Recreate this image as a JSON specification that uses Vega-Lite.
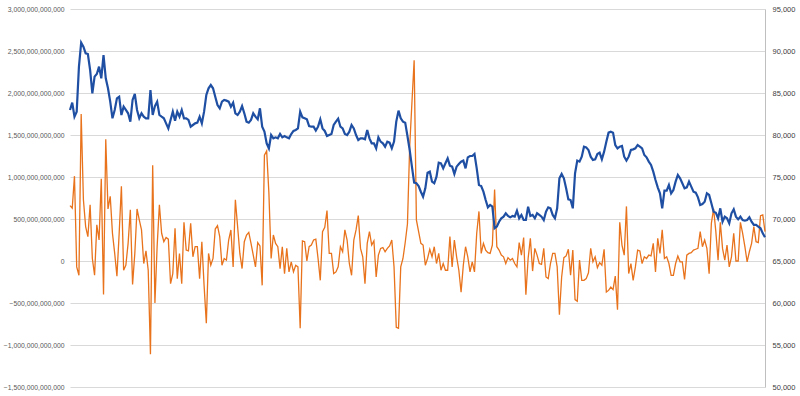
{
  "$schema": "https://vega.github.io/schema/vega-lite/v6.json",
  "width": 695,
  "height": 378,
  "autosize": {"type": "none"},
  "padding": {"left": 70, "top": 9, "right": 35, "bottom": 9},
  "background": "white",
  "config": {
    "view": {"stroke": null},
    "axis": {"labelFont": "Liberation Sans", "labelFontSize": 7.5, "labelColor": "#595959", "ticks": false, "domain": false, "title": null}
  },
  "data": {"values": [
{"t":0,"b":82980,"o":660e9},{"t":1,"b":83850,"o":630e9},{"t":2,"b":82180,"o":1010e9},{"t":3,"b":82780,"o":-70e9},{"t":4,"b":88140,"o":-170e9},
{"t":5,"b":90990,"o":1750e9},{"t":6,"b":90520,"o":730e9},{"t":7,"b":89720,"o":410e9},{"t":8,"b":89640,"o":290e9},{"t":9,"b":87740,"o":670e9},
{"t":10,"b":84960,"o":30e9},{"t":11,"b":86950,"o":-170e9},{"t":12,"b":87260,"o":430e9},{"t":13,"b":88140,"o":250e9},{"t":14,"b":86750,"o":980e9},
{"t":15,"b":89520,"o":-400e9},{"t":16,"b":86750,"o":1450e9},{"t":17,"b":85560,"o":620e9},{"t":18,"b":83970,"o":770e9},{"t":19,"b":81990,"o":330e9},
{"t":20,"b":82980,"o":90e9},{"t":21,"b":84370,"o":-180e9},{"t":22,"b":84560,"o":330e9},{"t":23,"b":82380,"o":890e9},{"t":24,"b":83370,"o":-110e9},
{"t":25,"b":82980,"o":-50e9},{"t":26,"b":82580,"o":210e9},{"t":27,"b":81590,"o":610e9},{"t":28,"b":84170,"o":-280e9},{"t":29,"b":84880,"o":90e9},
{"t":30,"b":82980,"o":620e9},{"t":31,"b":81990,"o":490e9},{"t":32,"b":82580,"o":370e9},{"t":33,"b":82180,"o":-30e9},{"t":34,"b":81990,"o":120e9},
{"t":35,"b":81990,"o":-110e9},{"t":36,"b":85360,"o":-1110e9},{"t":37,"b":82380,"o":1140e9},{"t":38,"b":83450,"o":-500e9},{"t":39,"b":83970,"o":180e9},
{"t":40,"b":82380,"o":670e9},{"t":41,"b":82180,"o":330e9},{"t":42,"b":81990,"o":230e9},{"t":43,"b":81390,"o":280e9},{"t":44,"b":80790,"o":260e9},
{"t":45,"b":81790,"o":-270e9},{"t":46,"b":82780,"o":-150e9},{"t":47,"b":81710,"o":390e9},{"t":48,"b":82780,"o":-210e9},{"t":49,"b":82180,"o":90e9},
{"t":50,"b":82980,"o":-270e9},{"t":51,"b":81990,"o":460e9},{"t":52,"b":81990,"o":130e9},{"t":53,"b":81790,"o":120e9},{"t":54,"b":80990,"o":450e9},
{"t":55,"b":81190,"o":50e9},{"t":56,"b":81390,"o":170e9},{"t":57,"b":81470,"o":170e9},{"t":58,"b":82180,"o":-210e9},{"t":59,"b":81390,"o":230e9},
{"t":60,"b":82780,"o":-290e9},{"t":61,"b":84760,"o":-740e9},{"t":62,"b":85560,"o":90e9},{"t":63,"b":85950,"o":-50e9},{"t":64,"b":85560,"o":30e9},
{"t":65,"b":84560,"o":380e9},{"t":66,"b":83570,"o":420e9},{"t":67,"b":83180,"o":290e9},{"t":68,"b":83970,"o":-50e9},{"t":69,"b":84170,"o":30e9},
{"t":70,"b":84090,"o":10e9},{"t":71,"b":83970,"o":250e9},{"t":72,"b":83370,"o":370e9},{"t":73,"b":83850,"o":-70e9},{"t":74,"b":82580,"o":730e9},
{"t":75,"b":82380,"o":410e9},{"t":76,"b":82780,"o":90e9},{"t":77,"b":83450,"o":-90e9},{"t":78,"b":82580,"o":230e9},{"t":79,"b":81590,"o":310e9},
{"t":80,"b":81470,"o":340e9},{"t":81,"b":81790,"o":210e9},{"t":82,"b":82580,"o":70e9},{"t":83,"b":82180,"o":-70e9},{"t":84,"b":81870,"o":220e9},
{"t":85,"b":83180,"o":180e9},{"t":86,"b":80990,"o":-290e9},{"t":87,"b":80400,"o":1260e9},{"t":88,"b":79010,"o":1310e9},{"t":89,"b":78410,"o":810e9},
{"t":90,"b":80000,"o":30e9},{"t":91,"b":79600,"o":310e9},{"t":92,"b":79720,"o":210e9},{"t":93,"b":79600,"o":170e9},{"t":94,"b":80120,"o":-90e9},
{"t":95,"b":79720,"o":170e9},{"t":96,"b":79880,"o":-150e9},{"t":97,"b":79720,"o":150e9},{"t":98,"b":79600,"o":-130e9},{"t":99,"b":80120,"o":-10e9},
{"t":100,"b":80480,"o":-130e9},{"t":101,"b":80600,"o":-50e9},{"t":102,"b":80790,"o":-70e9},{"t":103,"b":82780,"o":-800e9},{"t":104,"b":82100,"o":240e9},
{"t":105,"b":81990,"o":230e9},{"t":106,"b":81870,"o":0},{"t":107,"b":81070,"o":170e9},{"t":108,"b":80990,"o":190e9},{"t":109,"b":80990,"o":250e9},
{"t":110,"b":80520,"o":260e9},{"t":111,"b":80990,"o":30e9},{"t":112,"b":81870,"o":-230e9},{"t":113,"b":80790,"o":350e9},{"t":114,"b":80480,"o":400e9},
{"t":115,"b":79880,"o":600e9},{"t":116,"b":80000,"o":90e9},{"t":117,"b":80120,"o":90e9},{"t":118,"b":81190,"o":-150e9},{"t":119,"b":81590,"o":-130e9},
{"t":120,"b":81950,"o":-70e9},{"t":121,"b":80990,"o":170e9},{"t":122,"b":80790,"o":110e9},{"t":123,"b":80120,"o":370e9},{"t":124,"b":80000,"o":250e9},
{"t":125,"b":80400,"o":-30e9},{"t":126,"b":81190,"o":-170e9},{"t":127,"b":80790,"o":250e9},{"t":128,"b":80000,"o":370e9},{"t":129,"b":79410,"o":540e9},
{"t":130,"b":79600,"o":150e9},{"t":131,"b":79600,"o":50e9},{"t":132,"b":79490,"o":-270e9},{"t":133,"b":80600,"o":210e9},{"t":134,"b":79600,"o":350e9},
{"t":135,"b":79010,"o":190e9},{"t":136,"b":79010,"o":240e9},{"t":137,"b":78410,"o":-190e9},{"t":138,"b":79720,"o":70e9},{"t":139,"b":79210,"o":150e9},
{"t":140,"b":79010,"o":160e9},{"t":141,"b":78610,"o":110e9},{"t":142,"b":79210,"o":150e9},{"t":143,"b":79090,"o":180e9},{"t":144,"b":78410,"o":250e9},
{"t":145,"b":79210,"o":-70e9},{"t":146,"b":81590,"o":-790e9},{"t":147,"b":82900,"o":-800e9},{"t":148,"b":81990,"o":-70e9},{"t":149,"b":81590,"o":30e9},
{"t":150,"b":81470,"o":220e9},{"t":151,"b":79880,"o":440e9},{"t":152,"b":78220,"o":1360e9},{"t":153,"b":76230,"o":1880e9},{"t":154,"b":74330,"o":2390e9},
{"t":155,"b":74250,"o":490e9},{"t":156,"b":73930,"o":350e9},{"t":157,"b":73250,"o":210e9},{"t":158,"b":72660,"o":190e9},{"t":159,"b":73650,"o":-50e9},
{"t":160,"b":75520,"o":30e9},{"t":161,"b":75640,"o":140e9},{"t":162,"b":74450,"o":50e9},{"t":163,"b":74250,"o":170e9},{"t":164,"b":75040,"o":-30e9},
{"t":165,"b":76710,"o":90e9},{"t":166,"b":76630,"o":-110e9},{"t":167,"b":76030,"o":-30e9},{"t":168,"b":76630,"o":-110e9},{"t":169,"b":77220,"o":-110e9},
{"t":170,"b":76350,"o":290e9},{"t":171,"b":76230,"o":-70e9},{"t":172,"b":75360,"o":250e9},{"t":173,"b":76230,"o":50e9},{"t":174,"b":76550,"o":-110e9},
{"t":175,"b":76830,"o":-370e9},{"t":176,"b":76950,"o":-50e9},{"t":177,"b":76030,"o":170e9},{"t":178,"b":77340,"o":50e9},{"t":179,"b":77500,"o":-130e9},
{"t":180,"b":77500,"o":-10e9},{"t":181,"b":77740,"o":-130e9},{"t":182,"b":76030,"o":330e9},{"t":183,"b":74050,"o":590e9},{"t":184,"b":73930,"o":90e9},
{"t":185,"b":73250,"o":210e9},{"t":186,"b":72260,"o":130e9},{"t":187,"b":71390,"o":100e9},{"t":188,"b":71670,"o":90e9},{"t":189,"b":71470,"o":190e9},
{"t":190,"b":68890,"o":850e9},{"t":191,"b":69090,"o":170e9},{"t":192,"b":69680,"o":130e9},{"t":193,"b":70080,"o":70e9},{"t":194,"b":70280,"o":50e9},
{"t":195,"b":70680,"o":-30e9},{"t":196,"b":70360,"o":40e9},{"t":197,"b":70200,"o":10e9},{"t":198,"b":70360,"o":30e9},{"t":199,"b":70280,"o":-30e9},
{"t":200,"b":70990,"o":-70e9},{"t":201,"b":70080,"o":220e9},{"t":202,"b":70480,"o":70e9},{"t":203,"b":69880,"o":280e9},{"t":204,"b":69880,"o":-400e9},
{"t":205,"b":71470,"o":30e9},{"t":206,"b":70360,"o":270e9},{"t":207,"b":70480,"o":-120e9},{"t":208,"b":70080,"o":150e9},{"t":209,"b":70680,"o":70e9},
{"t":210,"b":70480,"o":-30e9},{"t":211,"b":70280,"o":-40e9},{"t":212,"b":69880,"o":150e9},{"t":213,"b":70870,"o":-190e9},{"t":214,"b":71390,"o":-210e9},
{"t":215,"b":71270,"o":-30e9},{"t":216,"b":70480,"o":90e9},{"t":217,"b":70080,"o":90e9},{"t":218,"b":71270,"o":-70e9},{"t":219,"b":74840,"o":-640e9},
{"t":220,"b":75360,"o":-190e9},{"t":221,"b":74840,"o":40e9},{"t":222,"b":73650,"o":60e9},{"t":223,"b":72340,"o":140e9},{"t":224,"b":72260,"o":-170e9},
{"t":225,"b":71270,"o":130e9},{"t":226,"b":75440,"o":-460e9},{"t":227,"b":76950,"o":-480e9},{"t":228,"b":76830,"o":10e9},{"t":229,"b":77420,"o":-230e9},
{"t":230,"b":78610,"o":-230e9},{"t":231,"b":78530,"o":-210e9},{"t":232,"b":78220,"o":-140e9},{"t":233,"b":77420,"o":150e9},{"t":234,"b":77020,"o":-10e9},
{"t":235,"b":77100,"o":50e9},{"t":236,"b":77740,"o":-80e9},{"t":237,"b":77900,"o":-20e9},{"t":238,"b":77100,"o":-50e9},{"t":239,"b":78020,"o":140e9},
{"t":240,"b":79210,"o":-370e9},{"t":241,"b":80280,"o":-350e9},{"t":242,"b":80400,"o":-310e9},{"t":243,"b":80280,"o":-340e9},{"t":244,"b":78810,"o":-180e9},
{"t":245,"b":78410,"o":-580e9},{"t":246,"b":78610,"o":460e9},{"t":247,"b":78690,"o":190e9},{"t":248,"b":77420,"o":70e9},{"t":249,"b":76950,"o":650e9},
{"t":250,"b":77420,"o":-150e9},{"t":251,"b":78220,"o":-30e9},{"t":252,"b":78290,"o":-230e9},{"t":253,"b":78410,"o":-70e9},{"t":254,"b":78810,"o":130e9},
{"t":255,"b":78610,"o":120e9},{"t":256,"b":78410,"o":-30e9},{"t":257,"b":77620,"o":50e9},{"t":258,"b":77340,"o":30e9},{"t":259,"b":76830,"o":70e9},
{"t":260,"b":76430,"o":60e9},{"t":261,"b":75640,"o":210e9},{"t":262,"b":74640,"o":-130e9},{"t":263,"b":73770,"o":270e9},{"t":264,"b":73060,"o":90e9},
{"t":265,"b":71270,"o":370e9},{"t":266,"b":73370,"o":30e9},{"t":267,"b":73370,"o":50e9},{"t":268,"b":74050,"o":-30e9},{"t":269,"b":73060,"o":-170e9},
{"t":270,"b":73450,"o":-170e9},{"t":271,"b":74450,"o":-30e9},{"t":272,"b":75240,"o":60e9},{"t":273,"b":74840,"o":-10e9},{"t":274,"b":74250,"o":-10e9},
{"t":275,"b":73650,"o":-220e9},{"t":276,"b":73770,"o":70e9},{"t":277,"b":74450,"o":90e9},{"t":278,"b":73850,"o":100e9},{"t":279,"b":73250,"o":130e9},
{"t":280,"b":73140,"o":140e9},{"t":281,"b":72580,"o":150e9},{"t":282,"b":71670,"o":350e9},{"t":283,"b":71790,"o":170e9},{"t":284,"b":72060,"o":250e9},
{"t":285,"b":73060,"o":150e9},{"t":286,"b":72860,"o":-150e9},{"t":287,"b":71870,"o":450e9},{"t":288,"b":70870,"o":620e9},{"t":289,"b":70750,"o":350e9},
{"t":290,"b":70080,"o":10e9},{"t":291,"b":71270,"o":460e9},{"t":292,"b":69680,"o":150e9},{"t":293,"b":70280,"o":10e9},{"t":294,"b":70080,"o":190e9},
{"t":295,"b":69480,"o":-70e9},{"t":296,"b":70680,"o":50e9},{"t":297,"b":71150,"o":330e9},{"t":298,"b":70280,"o":0},{"t":299,"b":69960,"o":0},
{"t":300,"b":70280,"o":460e9},{"t":301,"b":69880,"o":330e9},{"t":302,"b":69800,"o":170e9},{"t":303,"b":69880,"o":-10e9},{"t":304,"b":70200,"o":110e9},
{"t":305,"b":69680,"o":210e9},{"t":306,"b":69290,"o":410e9},{"t":307,"b":69290,"o":230e9},{"t":308,"b":69090,"o":220e9},{"t":309,"b":68890,"o":540e9},
{"t":310,"b":68290,"o":550e9},{"t":311,"b":67820,"o":350e9}
  ]},
  "encoding": {
    "x": {"field": "t", "type": "quantitative", "scale": {"domain": [0, 311], "nice": false, "zero": false}, "axis": null}
  },
  "layer": [
    {
      "mark": {"type": "line", "color": "#E8731C", "strokeWidth": 1.3, "interpolate": "linear"},
      "encoding": {
        "y": {"field": "o", "type": "quantitative",
          "scale": {"domain": [-1500000000000, 3000000000000], "nice": false},
          "axis": {"orient": "left", "values": [-1500000000000, -1000000000000, -500000000000, 0, 500000000000, 1000000000000, 1500000000000, 2000000000000, 2500000000000, 3000000000000], "format": ",.0f", "labelPadding": 6, "labelFontSize": 6.8, "grid": true, "gridColor": "#D9D9D9", "gridWidth": 1}}
      }
    },
    {
      "mark": {"type": "line", "color": "#1F4FA3", "strokeWidth": 2.2, "interpolate": "linear"},
      "encoding": {
        "y": {"field": "b", "type": "quantitative",
          "scale": {"domain": [50000, 95000], "nice": false, "zero": false},
          "axis": {"orient": "right", "values": [50000, 55000, 60000, 65000, 70000, 75000, 80000, 85000, 90000, 95000], "format": ",.0f", "labelPadding": 7, "grid": false, "domain": true, "domainColor": "#BFBFBF", "domainWidth": 1, "labelColor": "#404040"}}
      }
    }
  ],
  "resolve": {"scale": {"y": "independent"}}
}
